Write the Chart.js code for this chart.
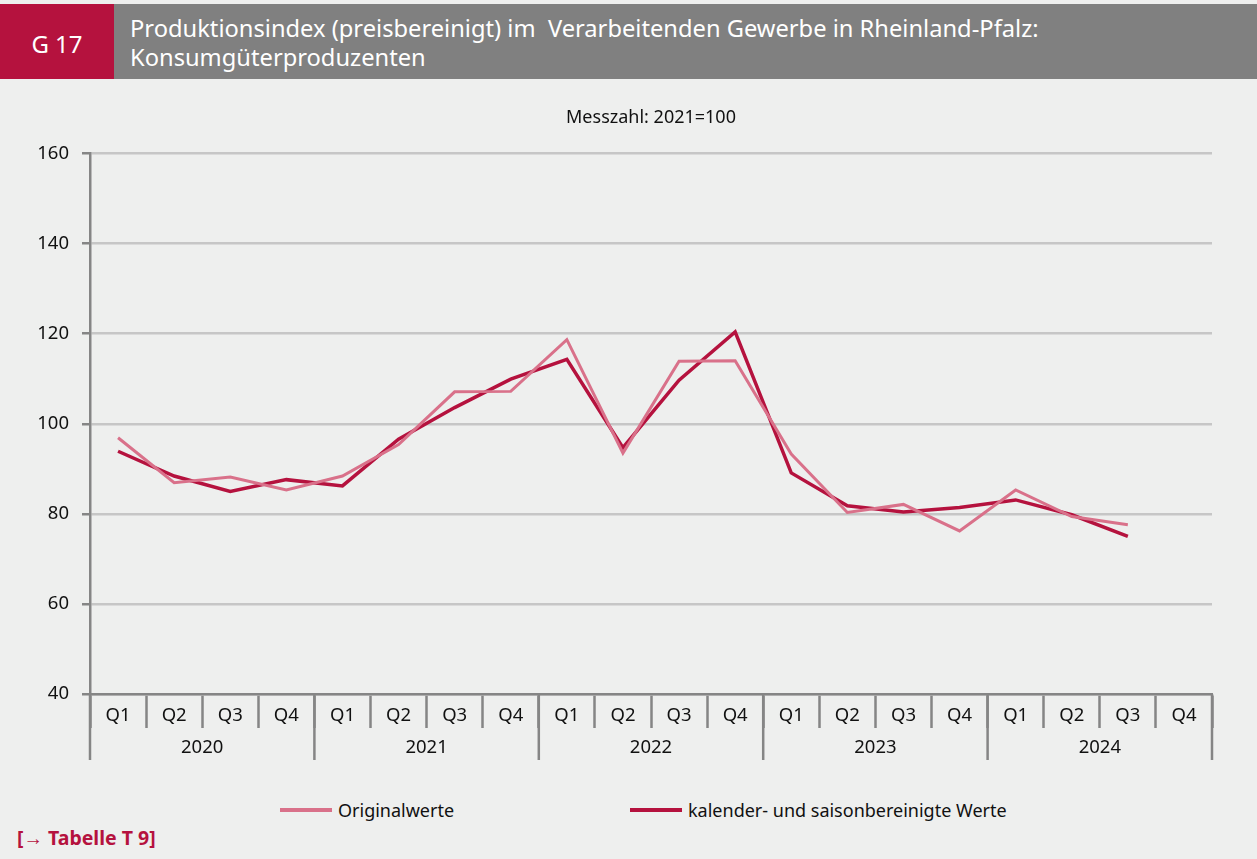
<!DOCTYPE html>
<html lang="de">
<head>
<meta charset="utf-8">
<title>G 17 Produktionsindex Konsumgüterproduzenten</title>
<script src="https://cdn.jsdelivr.net/npm/chart.js@4/dist/chart.umd.min.js"></script>
<style>
  html, body { margin: 0; padding: 0; }
  body {
    width: 1257px; height: 859px; overflow: hidden;
    background: #eeefee; font-family: "Noto Sans", "Open Sans", sans-serif;
    position: relative;
  }
  .kopf { position: absolute; top: 4px; left: 0; width: 1257px; height: 75px; background: #808080; }
  .nummer {
    position: absolute; top: 0; left: 0; width: 114px; height: 75px; background: #b5123e;
    color: #fff; font-size: 24px; line-height: 79px; text-align: center;
  }
  .titel {
    position: absolute; left: 130px; top: 10px; color: #fff; font-size: 23.7px; line-height: 29px;
    white-space: pre;
  }
  .grafik { position: absolute; left: 0; top: 95px; width: 1257px; height: 679px; }
  .legende { position: absolute; top: 798px; left: 0; width: 1257px; height: 24px; font-size: 18px; color: #111; }
  .eintrag { position: absolute; top: 0; display: flex; align-items: center; height: 24px; }
  .eintrag span.linie { display: inline-block; width: 52px; height: 4px; margin-right: 6px; }
  .verweis { position: absolute; left: 17px; top: 824px; font-size: 19.5px; font-weight: bold; color: #b5123e; }
</style>
</head>
<body>
<div class="kopf">
  <div class="nummer">G 17</div>
  <div class="titel">Produktionsindex (preisbereinigt) im  Verarbeitenden Gewerbe in Rheinland-Pfalz:
Konsumgüterproduzenten</div>
</div>
<div class="grafik"><canvas id="grafik"></canvas></div>
<div class="legende" id="legende"></div>
<div class="verweis">[→ Tabelle T 9]</div>

<script>
const quartale = [
  "Q1", "Q2", "Q3", "Q4",
  "Q1", "Q2", "Q3", "Q4",
  "Q1", "Q2", "Q3", "Q4",
  "Q1", "Q2", "Q3", "Q4",
  "Q1", "Q2", "Q3", "Q4",
];
const jahre = ["2020", "2021", "2022", "2023", "2024"];

const originalwerte = [
  96.9, 86.9, 88.2, 85.3,
  88.4, 95.4, 107.1, 107.2,
  118.7, 93.5, 113.9, 114.0,
  93.3, 80.3, 82.1, 76.2,
  85.3, 79.4, 77.6, null,
];
const bereinigt = [
  93.9, 88.4, 85.0, 87.6,
  86.2, 96.6, 103.6, 109.9,
  114.3, 94.7, 109.7, 120.4,
  89.1, 81.8, 80.4, 81.4,
  83.1, 79.8, 75.0, null,
];

const farbeOriginal = "#d9718a";
const farbeBereinigt = "#b5123e";
const achsenFarbe = "#858585";
const schrift = '"Noto Sans", "Open Sans", sans-serif';
const tickGroesse = 18.5;

// Jahreszeile unter den Quartalen
const jahresAchse = {
  id: "jahresAchse",
  afterDraw(chart) {
    const x = chart.scales.x;
    const ctx = chart.ctx;
    const breite = x.width / quartale.length;
    const oben = x.top;
    ctx.save();
    ctx.strokeStyle = achsenFarbe;
    ctx.lineWidth = 2.5;
    for (let i = 0; i <= jahre.length; i++) {
      const px = x.left + i * 4 * breite;
      ctx.beginPath();
      ctx.moveTo(px, oben);
      ctx.lineTo(px, oben + 66);
      ctx.stroke();
    }
    ctx.fillStyle = "#111";
    ctx.font = tickGroesse + "px " + schrift;
    ctx.textAlign = "center";
    ctx.textBaseline = "middle";
    jahre.forEach((j, i) => {
      const mitte = (x.getPixelForValue(i * 4 + 1) + x.getPixelForValue(i * 4 + 2)) / 2;
      ctx.fillText(j, mitte, oben + 54);
    });
    ctx.restore();
  },
};

const datensaetze = [
  {
    label: "Originalwerte",
    data: originalwerte,
    borderColor: farbeOriginal,
    backgroundColor: farbeOriginal,
    borderWidth: 3,
    pointRadius: 0,
    tension: 0,
  },
  {
    label: "kalender- und saisonbereinigte Werte",
    data: bereinigt,
    borderColor: farbeBereinigt,
    backgroundColor: farbeBereinigt,
    borderWidth: 3.5,
    pointRadius: 0,
    tension: 0,
  },
];

new Chart(document.getElementById("grafik"), {
  type: "line",
  data: { labels: quartale, datasets: datensaetze },
  options: {
    responsive: true,
    maintainAspectRatio: false,
    animation: false,
    layout: { padding: { left: 0, right: 45, top: 0, bottom: 0 } },
    plugins: {
      legend: { display: false },
      tooltip: { enabled: false },
      title: {
        display: true,
        fullSize: false,
        text: "Messzahl: 2021=100",
        color: "#111",
        font: { family: schrift, size: 18, weight: "normal" },
        padding: { top: 12, bottom: 25 },
      },
    },
    scales: {
      x: {
        offset: true,
        afterFit: (s) => { s.height = 80; },
        grid: {
          offset: true,
          drawOnChartArea: false,
          drawTicks: true,
          tickLength: 34,
          tickColor: achsenFarbe,
          tickWidth: 2.5,
        },
        border: { color: achsenFarbe, width: 2.5 },
        ticks: {
          color: "#111",
          font: { family: schrift, size: tickGroesse },
          padding: -23,
          maxRotation: 0,
          autoSkip: false,
        },
      },
      y: {
        min: 40,
        max: 160,
        afterFit: (s) => { s.width = 90; },
        ticks: {
          stepSize: 20,
          color: "#111",
          font: { family: schrift, size: tickGroesse },
          padding: 13,
        },
        grid: {
          color: "#c6c6c6",
          lineWidth: 2.5,
          tickLength: 8,
          tickColor: achsenFarbe,
          tickWidth: 2.5,
        },
        border: { color: achsenFarbe, width: 2.5 },
      },
    },
  },
  plugins: [jahresAchse],
});

// Legende
const legende = document.getElementById("legende");
const positionen = [280, 630];
datensaetze.forEach((d, i) => {
  const el = document.createElement("div");
  el.className = "eintrag";
  el.style.left = positionen[i] + "px";
  el.innerHTML = `<span class="linie" style="background:${d.borderColor}"></span>${d.label}`;
  legende.appendChild(el);
});
</script>
</body>
</html>
